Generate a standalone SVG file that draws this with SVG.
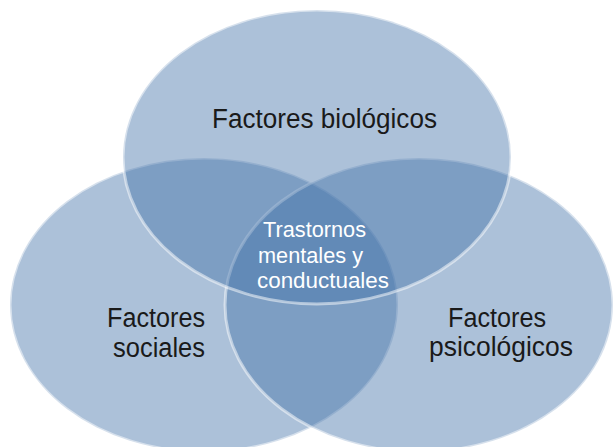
<svg xmlns="http://www.w3.org/2000/svg" width="614" height="447" viewBox="0 0 614 447">
<style>
.c{fill:#3f6fa7;fill-opacity:0.43;stroke:#ffffff;stroke-opacity:0.5;stroke-width:3}
.t{font-family:"Liberation Sans",Arial,sans-serif;font-size:27px;fill:#1a1a1a}
.w{font-family:"Liberation Sans",Arial,sans-serif;font-size:21.5px;fill:#ffffff}
</style>
<rect width="614" height="447" fill="#ffffff"/>
<g id="sociales">
<ellipse class="c" cx="204" cy="305" rx="194" ry="147"/>
<text class="t" x="107" y="327" textLength="98" lengthAdjust="spacingAndGlyphs">Factores</text>
<text class="t" x="113" y="357" textLength="92" lengthAdjust="spacingAndGlyphs">sociales</text>
</g>
<g id="psicologicos">
<ellipse class="c" cx="419" cy="305" rx="194" ry="147"/>
<text class="t" x="448" y="327" textLength="98" lengthAdjust="spacingAndGlyphs">Factores</text>
<text class="t" x="429" y="356" textLength="144" lengthAdjust="spacingAndGlyphs">psicológicos</text>
</g>
<g id="biologicos">
<ellipse class="c" cx="317" cy="157" rx="194" ry="147"/>
<text class="t" x="212" y="128" textLength="225" lengthAdjust="spacingAndGlyphs">Factores biológicos</text>
</g>
<g id="trastornos">
<text class="w" x="263" y="237" textLength="103" lengthAdjust="spacingAndGlyphs">Trastornos</text>
<text class="w" x="258" y="263" textLength="105" lengthAdjust="spacingAndGlyphs">mentales y</text>
<text class="w" x="257" y="288" textLength="132" lengthAdjust="spacingAndGlyphs">conductuales</text>
</g>
</svg>
